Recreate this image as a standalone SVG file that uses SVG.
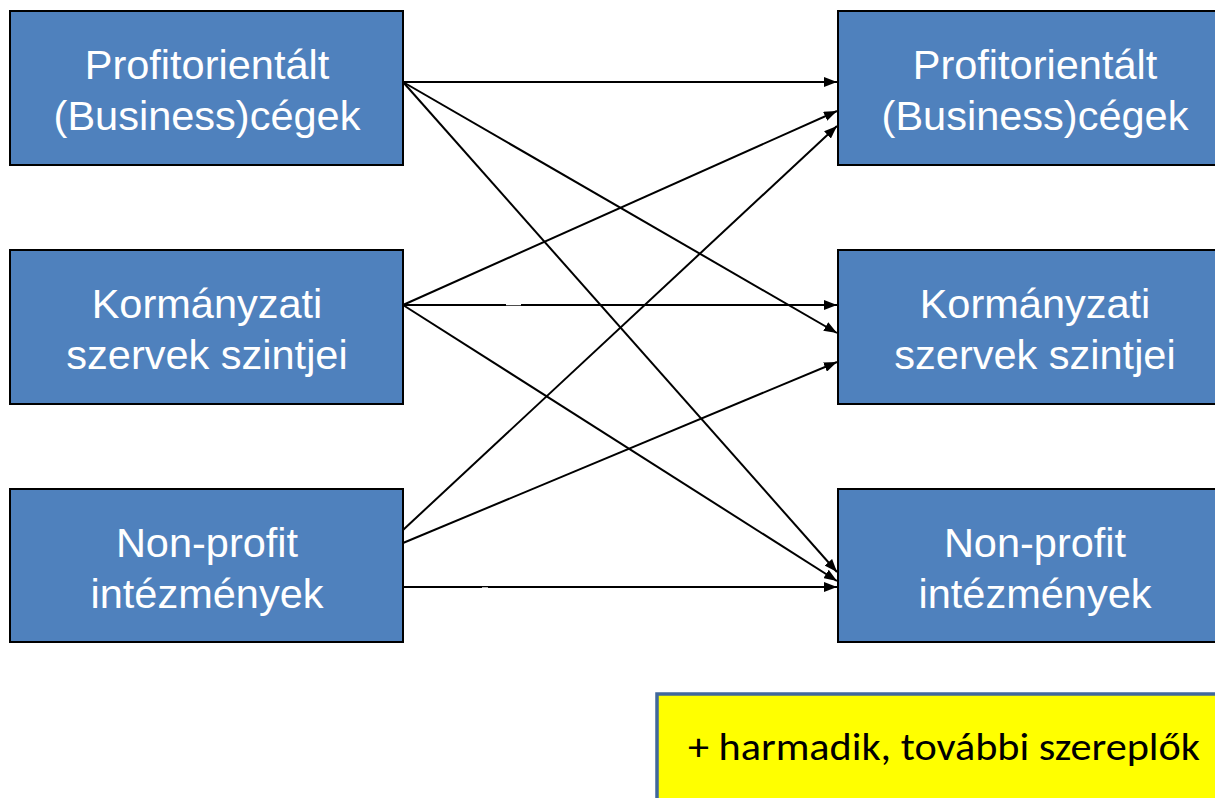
<svg xmlns="http://www.w3.org/2000/svg" width="1215" height="798" viewBox="0 0 1215 798">
  <style>
    .box { fill: #4F81BD; stroke: #000000; stroke-width: 2; }
    .label { fill: #FFFFFF; font-family: "Liberation Sans", Arial, sans-serif; font-size: 41.5px; text-anchor: middle; }
    .link { stroke: #000000; stroke-width: 2; fill: none; marker-end: url(#arrow); }
    .note { fill: #FFFF00; stroke: #41689C; stroke-width: 3.5; }
    .note-text { fill: #000000; font-family: Carlito, Lato, "Open Sans", sans-serif; font-size: 39px; text-anchor: middle; }
  </style>
  <defs>
    <marker id="arrow" markerUnits="userSpaceOnUse" markerWidth="14" markerHeight="10" refX="13" refY="5" orient="auto">
      <path d="M0,0 L13,5 L0,10 Z" fill="#000000"/>
    </marker>
  </defs>
  <rect width="1215" height="798" fill="#FFFFFF"/>

  <!-- source sectors -->
  <g id="src-business">
    <rect class="box" x="10" y="11" width="393" height="154"/>
    <text class="label" x="207" y="79">Profitorientált</text>
    <text class="label" x="207" y="130">(Business)cégek</text>
  </g>
  <g id="src-government">
    <rect class="box" x="10" y="250" width="393" height="154"/>
    <text class="label" x="207" y="318">Kormányzati</text>
    <text class="label" x="207" y="369">szervek szintjei</text>
  </g>
  <g id="src-nonprofit">
    <rect class="box" x="10" y="489" width="393" height="153"/>
    <text class="label" x="207" y="557">Non-profit</text>
    <text class="label" x="207" y="608">intézmények</text>
  </g>

  <!-- target sectors -->
  <g id="dst-business">
    <rect class="box" x="838" y="11" width="393" height="154"/>
    <text class="label" x="1035" y="79">Profitorientált</text>
    <text class="label" x="1035" y="130">(Business)cégek</text>
  </g>
  <g id="dst-government">
    <rect class="box" x="838" y="250" width="393" height="154"/>
    <text class="label" x="1035" y="318">Kormányzati</text>
    <text class="label" x="1035" y="369">szervek szintjei</text>
  </g>
  <g id="dst-nonprofit">
    <rect class="box" x="838" y="489" width="393" height="153"/>
    <text class="label" x="1035" y="557">Non-profit</text>
    <text class="label" x="1035" y="608">intézmények</text>
  </g>

  <!-- relations between sectors -->
  <g id="connectors">
    <line class="link" x1="403" y1="82" x2="837" y2="82"/>
    <line class="link" x1="403" y1="82" x2="837" y2="333"/>
    <line class="link" x1="403" y1="82" x2="837" y2="572"/>
    <line class="link" x1="403" y1="305" x2="837" y2="111"/>
    <line class="link" x1="403" y1="305" x2="837" y2="305"/>
    <line class="link" x1="403" y1="305" x2="837" y2="581"/>
    <line class="link" x1="403" y1="530" x2="837" y2="126"/>
    <line class="link" x1="403" y1="543" x2="837" y2="362"/>
    <line class="link" x1="403" y1="587" x2="837" y2="587"/>
    <!-- thin spots in the horizontal lines -->
    <rect x="506" y="304" width="15" height="1.3" fill="#FFFFFF"/>
    <rect x="482" y="587" width="6" height="1" fill="#FFFFFF" opacity="0.7"/>
  </g>

  <g id="note">
    <rect class="note" x="657" y="694" width="580" height="120"/>
    <text class="note-text" x="944" y="760" textLength="512" lengthAdjust="spacingAndGlyphs">+ harmadik, további szereplők</text>
  </g>
</svg>
